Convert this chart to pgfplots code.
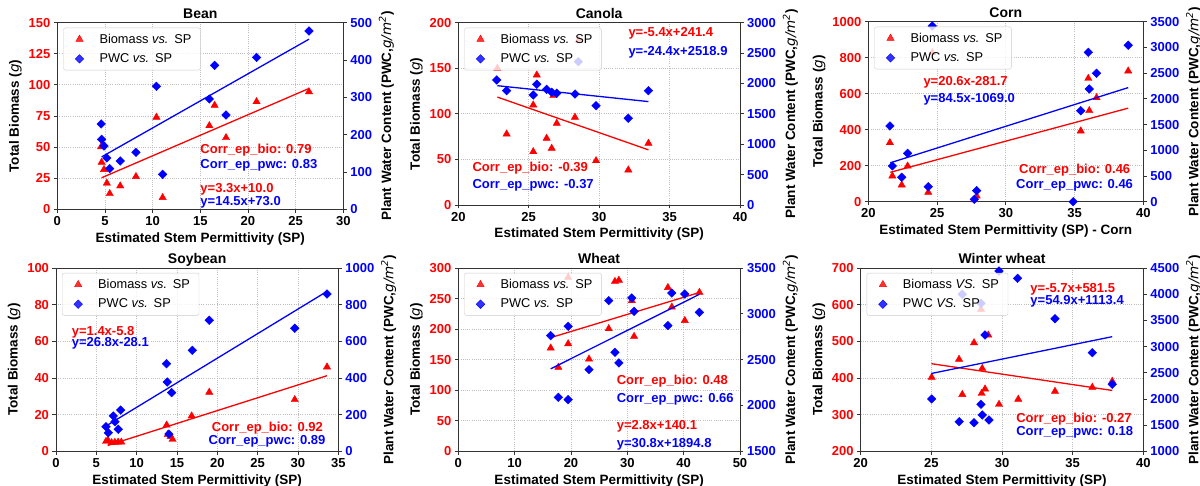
\documentclass[border=0pt]{standalone}
\usepackage{pgfplots}
\pgfplotsset{compat=1.18}
\usepackage{fontspec}
\setmainfont{Liberation Sans}
\newfontfamily\djv{DejaVu Sans}
\newcommand\tickfont{\fontsize{13}{15}\selectfont\bfseries}
\newcommand\labfont{\fontsize{13.5}{16}\selectfont\bfseries}
\newcommand\titfont{\fontsize{14}{16}\selectfont\bfseries}
\newcommand\annfont{\fontsize{13}{15}\selectfont\bfseries}
\newcommand\legfont{\fontsize{12.8}{14}\selectfont\mdseries}
\newcommand\gi{{\djv\mdseries\itshape g}}
\newcommand\ylabL{Total Biomass (\gi)}
\newcommand\ylabR{Plant Water Content (PWC,{\djv\mdseries\itshape g/m\textsuperscript{2}})}
\newcommand\xlab{Estimated Stem Permittivity (SP)}
\tikzset{ann/.style={anchor=west, inner sep=0pt, font=\annfont}}
\pgfplotsset{
 every axis title/.style={at={(0.5,1)}, anchor=base, yshift=4.5pt, font=\titfont},
 base/.style={scale only axis, anchor=south west,
  axis line style={black!80, line width=0.8pt},
  tick style={black!80, line width=0.8pt},
  tick align=outside, major tick length=3.5pt,
  /pgf/number format/assume math mode=true,
  /pgf/number format/1000 sep={},
  tick label style={font=\tickfont},
  label style={font=\labfont}},
 L/.style={base, xtick pos=lower, ytick pos=left,
  xmajorgrids, ymajorgrids,
  grid style={gray!50, line width=0.8pt, dash pattern=on 0.8pt off 1.4pt},
  yticklabel style={red}, ylabel={\ylabL}},
 R/.style={base, axis y line*=right, axis x line=none,
  yticklabel style={blue}, ylabel={\ylabR},
  legend cell align=left,
  legend image code/.code={\draw[##1] plot coordinates {(9pt,0pt)}; \path[draw=none,fill=none] (0pt,0pt) (27pt,0pt);},
  legend style={at={(0,1)}, anchor=north west, xshift=6pt, yshift=-5pt,
   font=\legfont, draw=black!20, fill=white, fill opacity=0.8,
   text opacity=1, draw opacity=1, rounded corners=2pt,
   inner xsep=7pt, inner ysep=4pt, row sep=5pt}},
 bio/.style={only marks, mark=triangle*, mark size=4.2pt, red},
 pwc/.style={only marks, mark=square*, mark size=3.05pt, mark options={rotate=45}, blue},
 fitR/.style={red, line width=1.3pt, no marks},
 fitB/.style={blue, line width=1.3pt, no marks},
}
\begin{document}
\begin{tikzpicture}
\useasboundingbox (0,0) rectangle (1200pt,486pt);
%================ Bean
\begin{axis}[L, at={(57.3pt,276.7pt)}, width=286pt, height=186.6pt,
  xmin=0, xmax=30, ymin=0, ymax=150, xtick={0,5,...,30}, ytick={0,25,...,150},
  title={Bean}, xlabel={\xlab}]
\addplot[bio] coordinates {(4.6,50.3) (4.65,37.8) (4.9,32) (5.2,21) (5.5,12.6) (6.6,18.8) (8.25,26.3) (10.4,74) (11.05,9.4) (15.95,67.2) (16.5,83.6) (17.7,57.6) (20.9,86.5) (26.4,94.5)};
\addplot[fitR] coordinates {(4.65,25.35) (26.4,97.12)};
\node[ann,red] at (axis cs:15,47.7) {Corr\_ep\_bio: 0.79};
\node[ann,blue] at (axis cs:15,35.6) {Corr\_ep\_pwc: 0.83};
\node[ann,red] at (axis cs:15,16.3) {y=3.3x+10.0};
\node[ann,blue] at (axis cs:15,5.6) {y=14.5x+73.0};
\end{axis}
\begin{axis}[R, at={(57.3pt,276.7pt)}, width=286pt, height=186.6pt,
  xmin=0, xmax=30, ymin=0, ymax=500, ytick={0,100,...,500}]
\addlegendimage{bio}
\addlegendentry{Biomass \textit{vs.}\hspace{0.45em}SP}
\addplot[pwc] coordinates {(4.6,228.6) (4.65,187.5) (4.9,169.6) (5.2,137.5) (5.5,109) (6.6,129.5) (8.25,152.7) (10.4,329.5) (11.05,93.75) (15.95,295.5) (16.5,385.7) (17.7,252.7) (20.9,407) (26.4,477.7)};
\addlegendentry{PWC \textit{vs.}\hspace{0.45em}SP}
\addplot[fitB] coordinates {(4.65,140.4) (26.4,455.8)};
\end{axis}
%================ Canola
\begin{axis}[L, at={(458.3pt,281pt)}, width=281.7pt, height=182.3pt,
  xmin=20, xmax=40, ymin=0, ymax=200, xtick={20,25,...,40}, ytick={0,50,...,200},
  title={Canola}, xlabel={\xlab}]
\addplot[bio] coordinates {(22.77,150) (23.43,77.9) (25.32,109.7) (25.32,58.5) (25.57,142.6) (26.27,73.2) (26.63,62.2) (26.75,120) (26.99,89.6) (28.28,96.2) (28.55,181) (29.78,48.6) (32.07,38.4) (33.5,67.7)};
\addplot[fitR] coordinates {(22.77,118.4) (33.5,60.5)};
\node[ann,red] at (axis cs:32.07,188.3) {y=-5.4x+241.4};
\node[ann,blue] at (axis cs:32.07,167.1) {y=-24.4x+2518.9};
\node[ann,red] at (axis cs:21.0,40.2) {Corr\_ep\_bio: -0.39};
\node[ann,blue] at (axis cs:21.0,21.2) {Corr\_ep\_pwc: -0.37};
\end{axis}
\begin{axis}[R, at={(458.3pt,281pt)}, width=281.7pt, height=182.3pt,
  xmin=20, xmax=40, ymin=0, ymax=3000, ytick={0,500,...,3000}]
\addlegendimage{bio}
\addlegendentry{Biomass \textit{vs.}\hspace{0.45em}SP}
\addplot[pwc] coordinates {(22.73,2057) (23.43,1881) (25.32,1810) (25.57,1986) (26.27,1904) (26.63,1855) (26.99,1838) (28.29,1826) (28.52,2358) (29.78,1634) (32.07,1427) (33.5,1881)};
\addlegendentry{PWC \textit{vs.}\hspace{0.45em}SP}
\addplot[fitB] coordinates {(22.77,1963.3) (33.5,1701.5)};
\end{axis}
%================ Corn
\begin{axis}[L, at={(868.3pt,284.3pt)}, width=275pt, height=180pt,
  xmin=20, xmax=40, ymin=0, ymax=1000, xtick={20,25,...,40}, ytick={0,200,...,1000},
  title={Corn}, xlabel={\xlab{} - Corn}]
\addplot[bio] coordinates {(21.57,328) (21.75,143) (22.43,92.8) (22.86,198) (24.36,52) (24.65,828) (27.71,10) (27.88,31.7) (35.45,393) (36.07,506) (36.0,685) (36.6,578) (38.9,726)};
\addplot[fitR] coordinates {(21.6,163.3) (38.9,519.6)};
\node[ann,red] at (axis cs:24.0,661) {y=20.6x-281.7};
\node[ann,blue] at (axis cs:24.0,568.5) {y=84.5x-1069.0};
\node[ann,red] at (axis cs:30.96,176) {Corr\_ep\_bio: 0.46};
\node[ann,blue] at (axis cs:30.74,92.6) {Corr\_ep\_pwc: 0.46};
\end{axis}
\begin{axis}[R, at={(868.3pt,284.3pt)}, width=275pt, height=180pt,
  xmin=20, xmax=40, ymin=0, ymax=3500, ytick={0,500,...,3500}]
\addlegendimage{bio}
\addlegendentry{Biomass \textit{vs.}\hspace{0.45em}SP}
\addplot[pwc] coordinates {(21.57,1472) (21.75,694) (22.43,474) (22.86,941) (24.36,292) (24.65,3416) (27.71,46) (27.88,214) (34.9,0) (35.45,1769) (36.07,2191) (36.0,2905) (36.6,2497) (38.9,3042)};
\addlegendentry{PWC \textit{vs.}\hspace{0.45em}SP}
\addplot[fitB] coordinates {(21.6,756.2) (38.9,2218.1)};
\end{axis}
%================ Soybean
\begin{axis}[L, at={(56pt,34.7pt)}, width=282.3pt, height=183.3pt,
  xmin=0, xmax=35, ymin=0, ymax=100, xtick={0,5,...,35}, ytick={0,20,...,100},
  title={Soybean}, xlabel={\xlab}]
\addplot[bio] coordinates {(6.2,5.4) (6.45,6) (6.9,4.7) (7.3,4.9) (7.7,5) (8.1,5) (13.72,14.3) (13.85,9.1) (14.2,8) (14.45,6.5) (16.82,19.3) (19.0,32.2) (29.6,28.2) (33.6,46)};
\addplot[fitR] coordinates {(6.4,3.16) (33.6,41.24)};
\node[ann,red] at (axis cs:1.94,64.9) {y=1.4x-5.8};
\node[ann,blue] at (axis cs:1.94,58.7) {y=26.8x-28.1};
\node[ann,red] at (axis cs:19.3,12.7) {Corr\_ep\_bio: 0.92};
\node[ann,blue] at (axis cs:18.9,5.5) {Corr\_ep\_pwc: 0.89};
\end{axis}
\begin{axis}[R, at={(56pt,34.7pt)}, width=282.3pt, height=183.3pt,
  xmin=0, xmax=35, ymin=0, ymax=1000, ytick={0,200,...,1000}]
\addlegendimage{bio}
\addlegendentry{Biomass \textit{vs.}\hspace{0.45em}SP}
\addplot[pwc] coordinates {(6.2,134) (6.49,101) (7.1,193) (7.31,161) (7.72,120) (8.02,225) (13.7,478) (13.8,378) (14.0,94) (14.34,320) (16.9,551) (19.0,715) (29.6,671) (33.6,858)};
\addlegendentry{PWC \textit{vs.}\hspace{0.45em}SP}
\addplot[fitB] coordinates {(6.4,143.4) (33.6,872.4)};
\end{axis}
%================ Wheat
\begin{axis}[L, at={(458.3pt,34.7pt)}, width=281.7pt, height=183.3pt,
  xmin=0, xmax=50, ymin=0, ymax=300, xtick={0,10,...,50}, ytick={0,50,...,300},
  title={Wheat}, xlabel={\xlab}]
\addplot[bio] coordinates {(16.4,169) (17.75,137.5) (19.5,176) (19.5,284.7) (23.2,151) (26.7,200.7) (27.8,278) (28.5,280) (30.8,246.5) (31.2,188) (37.2,268) (37.9,236) (40.2,214) (42.8,260)};
\addplot[fitR] coordinates {(16.4,186.0) (42.8,259.9)};
\node[ann,red] at (axis cs:28.1,115.6) {Corr\_ep\_bio: 0.48};
\node[ann,blue] at (axis cs:28.1,85.6) {Corr\_ep\_pwc: 0.66};
\node[ann,red] at (axis cs:28.1,40.9) {y=2.8x+140.1};
\node[ann,blue] at (axis cs:28.1,10.9) {y=30.8x+1894.8};
\end{axis}
\begin{axis}[R, at={(458.3pt,34.7pt)}, width=281.7pt, height=183.3pt,
  xmin=0, xmax=50, ymin=1500, ymax=3500, ytick={1500,2000,...,3500}]
\addlegendimage{bio}
\addlegendentry{Biomass \textit{vs.}\hspace{0.45em}SP}
\addplot[pwc] coordinates {(16.4,2762) (17.75,2089) (19.5,2864) (19.5,2064) (23.2,2391) (26.7,3144) (27.8,2580) (28.5,2464) (30.8,3173) (31.2,3027) (37.2,2871) (37.9,3227) (40.2,3216) (42.8,3016)};
\addlegendentry{PWC \textit{vs.}\hspace{0.45em}SP}
\addplot[fitB] coordinates {(16.4,2399.9) (42.8,3213.0)};
\end{axis}
%================ Winter wheat
\begin{axis}[L, at={(860.7pt,34.7pt)}, width=282.6pt, height=183.3pt,
  xmin=20, xmax=40, ymin=200, ymax=700, xtick={20,25,...,40}, ytick={200,300,...,700},
  title={Winter wheat}, xlabel={\xlab}]
\addplot[bio] coordinates {(25.02,401.8) (26.96,451) (27.19,355) (28.02,496) (28.51,587) (28.56,358) (28.6,426) (28.8,370) (29.03,517) (29.79,328) (31.15,342) (33.75,363.6) (36.39,374.5) (37.8,391)};
\addplot[fitR] coordinates {(25.0,439.0) (37.8,366.0)};
\node[ann,red] at (axis cs:32.0,642.7) {y=-5.7x+581.5};
\node[ann,blue] at (axis cs:32.0,609) {y=54.9x+1113.4};
\node[ann,red] at (axis cs:31.0,289) {Corr\_ep\_bio: -0.27};
\node[ann,blue] at (axis cs:31.0,251.8) {Corr\_ep\_pwc: 0.18};
\end{axis}
\begin{axis}[R, at={(860.7pt,34.7pt)}, width=282.6pt, height=183.3pt,
  xmin=20, xmax=40, ymin=1000, ymax=4500, ytick={1000,1500,...,4500}]
\addlegendimage{bio}
\addlegendentry{Biomass \textit{VS.}\hspace{0.45em}SP}
\addplot[pwc] coordinates {(25.02,1999) (26.97,1565) (27.19,3998) (28.02,1546) (28.51,3826) (28.51,1897) (28.6,1693) (28.8,3221) (29.08,1598) (29.79,4443) (31.1,4303) (33.75,3532) (36.39,2883) (37.8,2279)};
\addlegendentry{PWC \textit{VS.}\hspace{0.45em}SP}
\addplot[fitB] coordinates {(25.0,2485.9) (37.8,3188.6)};
\end{axis}
\end{tikzpicture}
\end{document}
